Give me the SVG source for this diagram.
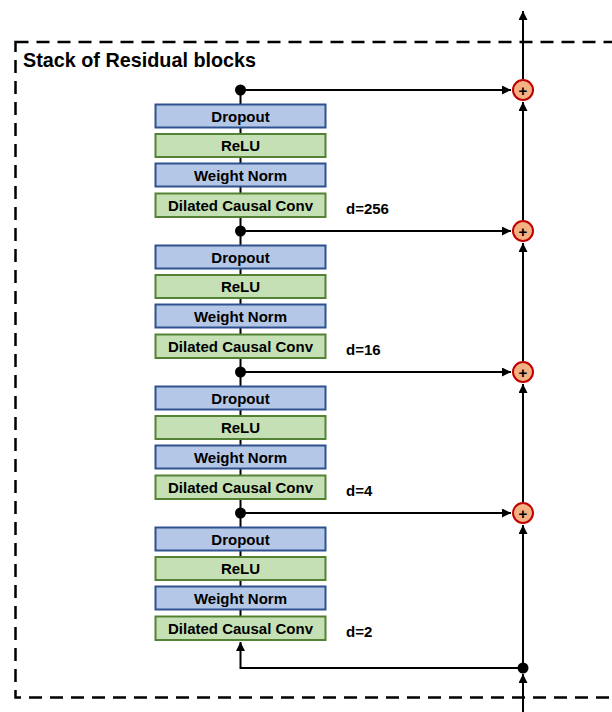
<svg xmlns="http://www.w3.org/2000/svg" width="612" height="712" viewBox="0 0 612 712">
<style>
.blue{fill:#B4C7E7;stroke:#2F528F;stroke-width:2}
.green{fill:#C5E0B4;stroke:#548235;stroke-width:2}
.lbl{font-family:"Liberation Sans",Arial,sans-serif;font-weight:bold;font-size:15px;fill:#000;text-anchor:middle}
.d{font-family:"Liberation Sans",Arial,sans-serif;font-weight:bold;font-size:15px;fill:#000}
.ln{stroke:#000;stroke-width:2;fill:none}
.plus{fill:#F4B183;stroke:#C00000;stroke-width:2}
.pt{font-family:"Liberation Sans",Arial,sans-serif;font-weight:bold;font-size:15px;text-anchor:middle}
</style>
<defs>
<marker id="ah" viewBox="0 0 10 10" refX="10" refY="5" markerWidth="4.5" markerHeight="4.5" orient="auto" markerUnits="strokeWidth">
<path d="M0,0 L10,5 L0,10 z" fill="#000"/>
</marker>
</defs>
<rect x="15.5" y="42" width="620" height="655.5" fill="none" stroke="#000" stroke-width="2.5" stroke-dasharray="13,8"/>
<text x="23" y="67" font-family="Liberation Sans,Arial,sans-serif" font-weight="bold" font-size="19.8px">Stack of Residual blocks</text>
<g id="connectors">
<line class="ln" x1="240.5" y1="90" x2="240.5" y2="616"/>
<line class="ln" x1="240.5" y1="90" x2="511" y2="90" marker-end="url(#ah)"/>
<line class="ln" x1="240.5" y1="231" x2="511" y2="231" marker-end="url(#ah)"/>
<line class="ln" x1="240.5" y1="372" x2="511" y2="372" marker-end="url(#ah)"/>
<line class="ln" x1="240.5" y1="513" x2="511" y2="513" marker-end="url(#ah)"/>
<line class="ln" x1="523" y1="712" x2="523" y2="674" marker-end="url(#ah)"/>
<polyline class="ln" points="523,668 240.5,668 240.5,642" marker-end="url(#ah)"/>
<line class="ln" x1="523" y1="668" x2="523" y2="525" marker-end="url(#ah)"/>
<line class="ln" x1="523" y1="502" x2="523" y2="384" marker-end="url(#ah)"/>
<line class="ln" x1="523" y1="361" x2="523" y2="243" marker-end="url(#ah)"/>
<line class="ln" x1="523" y1="220" x2="523" y2="102" marker-end="url(#ah)"/>
<line class="ln" x1="523" y1="79" x2="523" y2="11" marker-end="url(#ah)"/>
<circle cx="240.5" cy="90" r="5.5" fill="#000"/>
<circle cx="240.5" cy="231" r="5.5" fill="#000"/>
<circle cx="240.5" cy="372" r="5.5" fill="#000"/>
<circle cx="240.5" cy="513" r="5.5" fill="#000"/>
<circle cx="523" cy="668" r="5.5" fill="#000"/>
</g>
<g id="block1">
<rect class="blue" x="155.5" y="104.5" width="170" height="23"/><text class="lbl" x="240.5" y="121.5">Dropout</text>
<rect class="green" x="155.5" y="134" width="170" height="23"/><text class="lbl" x="240.5" y="151">ReLU</text>
<rect class="blue" x="155.5" y="163.5" width="170" height="23"/><text class="lbl" x="240.5" y="180.5">Weight Norm</text>
<rect class="green" x="155.5" y="193.5" width="170" height="23.5"/><text class="lbl" x="240.5" y="210.5">Dilated Causal Conv</text>
<text class="d" x="346" y="214">d=256</text>
</g>
<g id="block2">
<rect class="blue" x="155.5" y="245.5" width="170" height="23"/><text class="lbl" x="240.5" y="262.5">Dropout</text>
<rect class="green" x="155.5" y="275" width="170" height="23"/><text class="lbl" x="240.5" y="292">ReLU</text>
<rect class="blue" x="155.5" y="304.5" width="170" height="23"/><text class="lbl" x="240.5" y="321.5">Weight Norm</text>
<rect class="green" x="155.5" y="334.5" width="170" height="23.5"/><text class="lbl" x="240.5" y="351.5">Dilated Causal Conv</text>
<text class="d" x="346" y="355">d=16</text>
</g>
<g id="block3">
<rect class="blue" x="155.5" y="386.5" width="170" height="23"/><text class="lbl" x="240.5" y="403.5">Dropout</text>
<rect class="green" x="155.5" y="416" width="170" height="23"/><text class="lbl" x="240.5" y="433">ReLU</text>
<rect class="blue" x="155.5" y="445.5" width="170" height="23"/><text class="lbl" x="240.5" y="462.5">Weight Norm</text>
<rect class="green" x="155.5" y="475.5" width="170" height="23.5"/><text class="lbl" x="240.5" y="492.5">Dilated Causal Conv</text>
<text class="d" x="346" y="496">d=4</text>
</g>
<g id="block4">
<rect class="blue" x="155.5" y="527.5" width="170" height="23"/><text class="lbl" x="240.5" y="544.5">Dropout</text>
<rect class="green" x="155.5" y="557" width="170" height="23"/><text class="lbl" x="240.5" y="574">ReLU</text>
<rect class="blue" x="155.5" y="586.5" width="170" height="23"/><text class="lbl" x="240.5" y="603.5">Weight Norm</text>
<rect class="green" x="155.5" y="616.5" width="170" height="23.5"/><text class="lbl" x="240.5" y="633.5">Dilated Causal Conv</text>
<text class="d" x="346" y="637">d=2</text>
</g>
<g id="sum1"><circle class="plus" cx="523" cy="90" r="10"/><text class="pt" x="523" y="95.5">+</text></g>
<g id="sum2"><circle class="plus" cx="523" cy="231" r="10"/><text class="pt" x="523" y="236.5">+</text></g>
<g id="sum3"><circle class="plus" cx="523" cy="372" r="10"/><text class="pt" x="523" y="377.5">+</text></g>
<g id="sum4"><circle class="plus" cx="523" cy="513" r="10"/><text class="pt" x="523" y="518.5">+</text></g>
</svg>
